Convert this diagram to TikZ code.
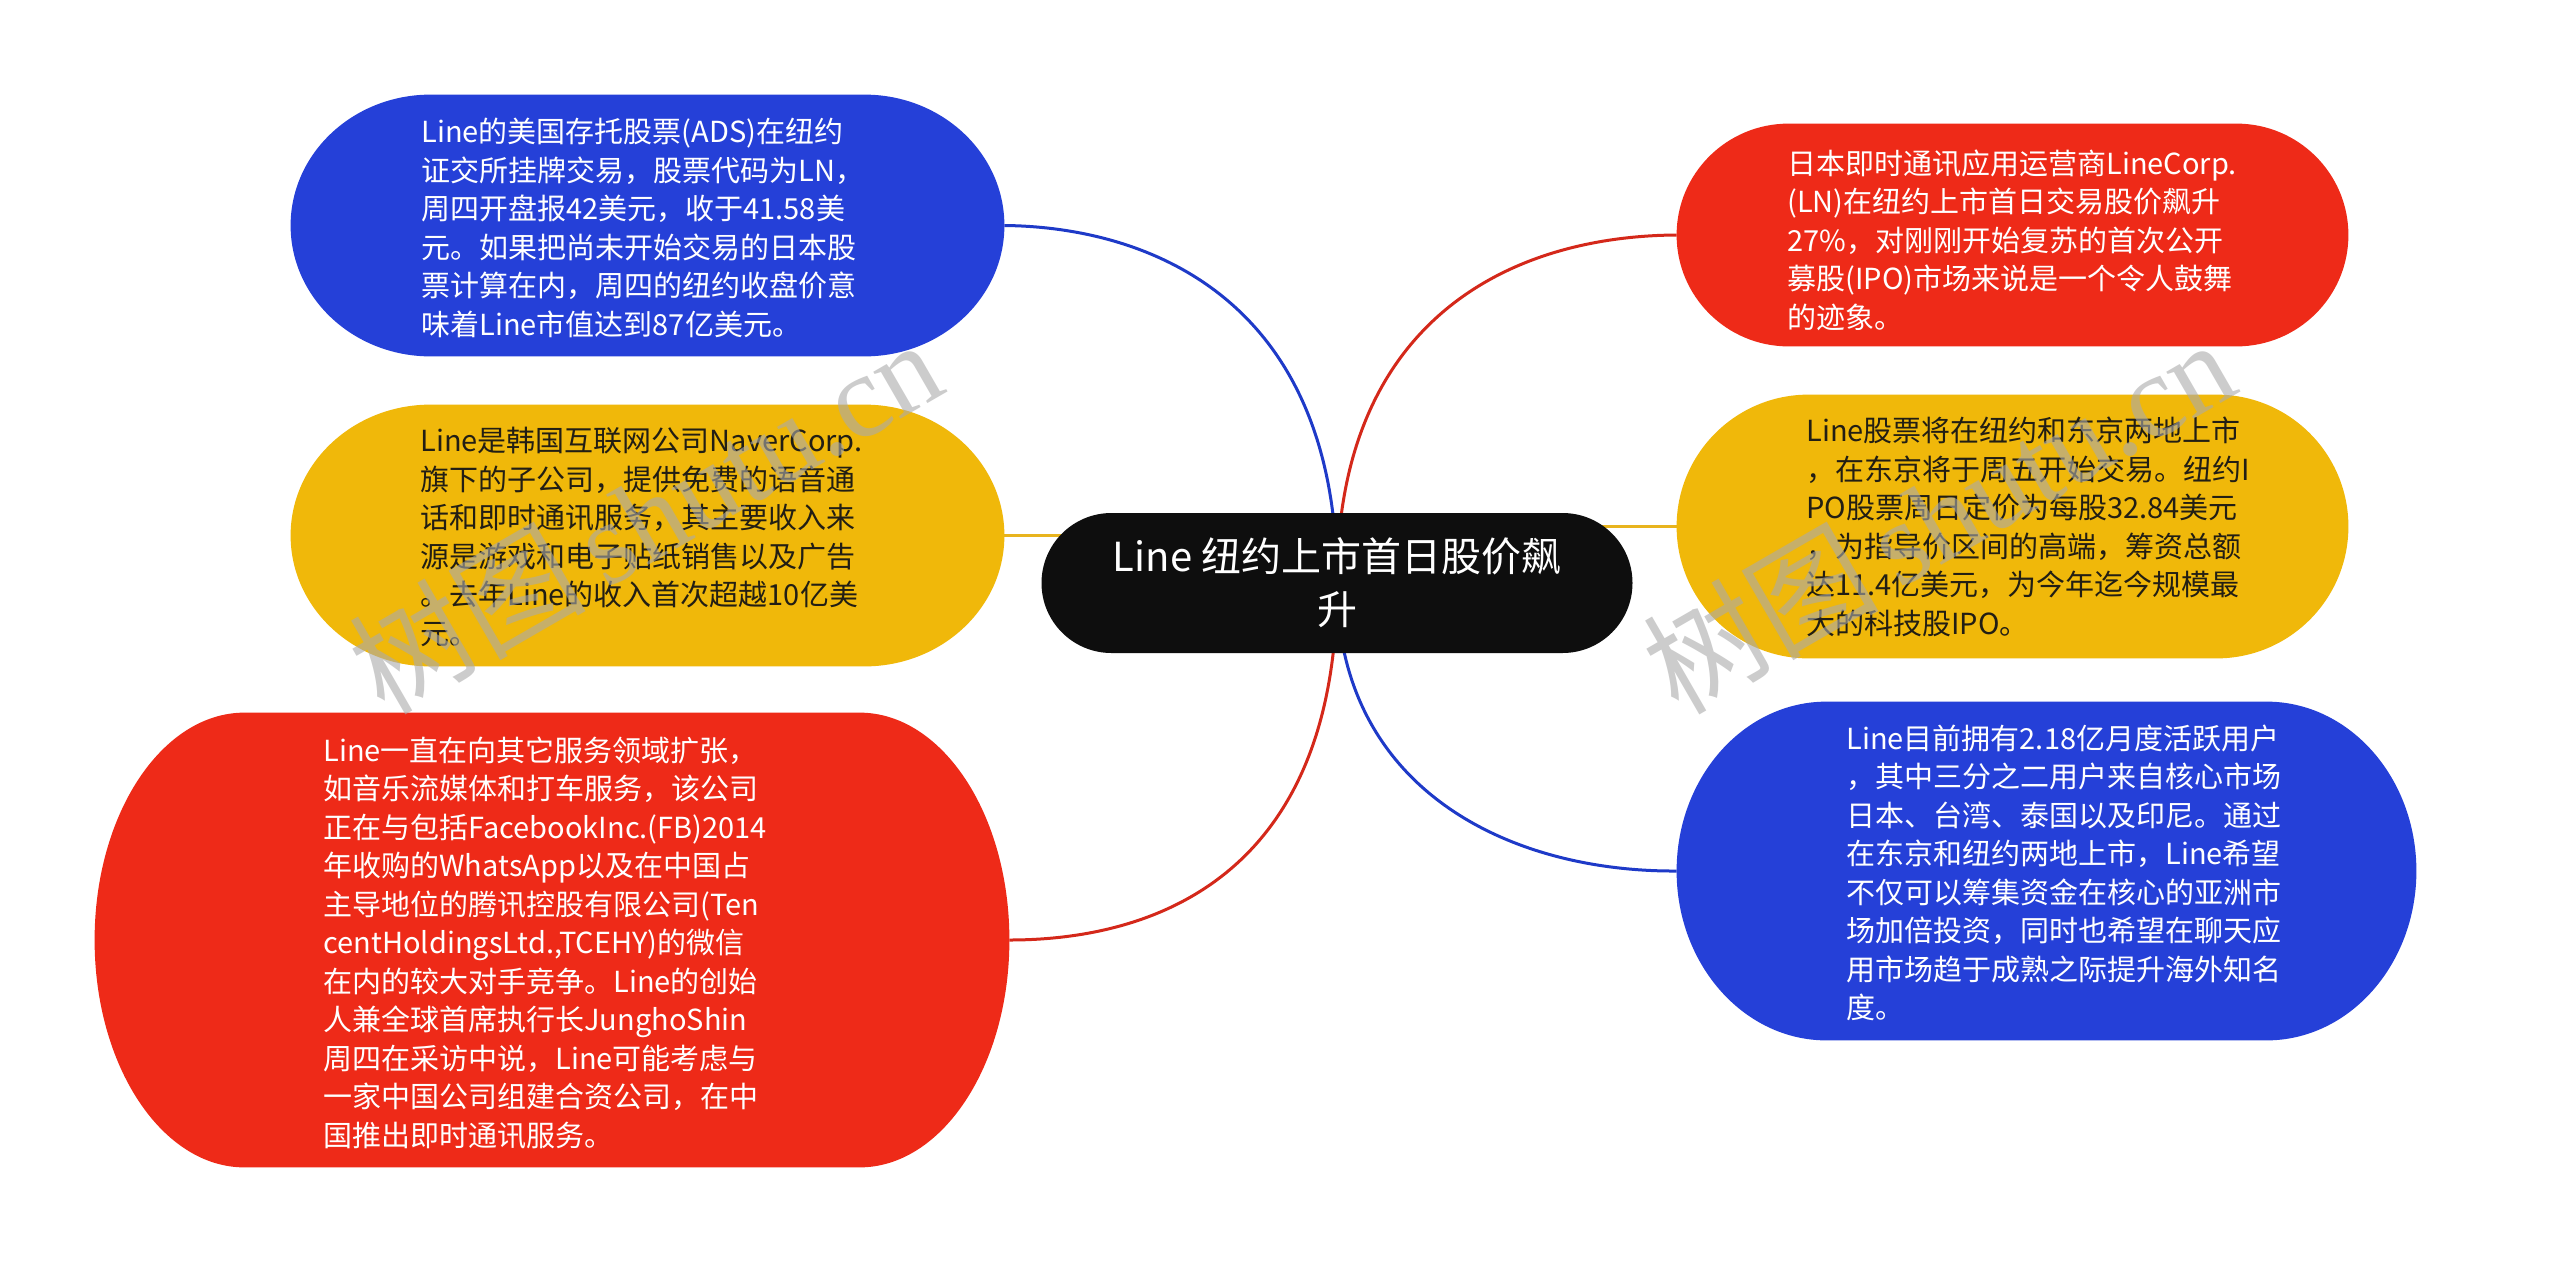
\documentclass[tikz,border=0pt]{standalone}
\usepackage{fontspec}
\setmainfont{Noto Sans CJK SC}
\newfontfamily\wmlatin{Liberation Serif}
\usetikzlibrary{shapes.misc,calc}
\pgfdeclarelayer{bg}
\pgfdeclarelayer{mid}
\pgfdeclarelayer{top}
\pgfsetlayers{bg,mid,main,top}
\definecolor{cblue}{RGB}{37,64,216}
\definecolor{cred}{RGB}{238,42,24}
\definecolor{cyellow}{RGB}{240,184,10}
\definecolor{cblack}{RGB}{14,14,14}
\definecolor{lblue}{RGB}{30,58,200}
\definecolor{lred}{RGB}{212,40,26}
\definecolor{lyellow}{RGB}{232,180,30}
\definecolor{darktext}{RGB}{34,30,20}
\definecolor{wmgray}{RGB}{170,170,170}
% elliptical-ended pill behind a named node: #1 node, #2 end radius, #3 colour
\newcommand\pillfill[3]{%
  \fill[#3] let \p1=(#1.north west), \p2=(#1.south east) in
    (\x1+#2,\y1) -- (\x2-#2,\y1)
    arc[start angle=90, end angle=-90, x radius=#2, y radius={(\y1-\y2)/2}]
    -- (\x1+#2,\y2)
    arc[start angle=270, end angle=90, x radius=#2, y radius={(\y1-\y2)/2}] -- cycle;}
\begin{document}
\begin{tikzpicture}[x=0.5pt,y=-0.5pt,
  pill/.style={shape=rounded rectangle, inner sep=0pt, draw=none},
  boxarea/.style={shape=rectangle, inner sep=0pt, draw=none},
  txt/.style={anchor=west, align=left, inner sep=0pt,
    font=\fontsize{14.5pt}{19.25pt}\selectfont},
  conn/.style={line width=1.5pt},
  wm/.style={rotate=30, text=wmgray, text opacity=0.6, inner sep=0pt,
    font=\fontsize{59pt}{62pt}\selectfont}
]
\useasboundingbox (0,0) rectangle (2560,1264);

% central topic
\node[pill, fill=cblack, text=white, minimum width=295.5pt, minimum height=70pt,
  align=center, font=\fontsize{20pt}{26.5pt}\selectfont] (c) at (1337,583)
  {Line 纽约上市首日股价飙\\升};

% branch box areas
\node[boxarea, minimum width=356.5pt, minimum height=130.5pt] (b1) at (647.5,225.5) {};
\node[boxarea, minimum width=356.5pt, minimum height=130.5pt] (b2) at (647.5,535.5) {};
\node[boxarea, minimum width=457pt, minimum height=227pt] (b3) at (552,940) {};
\node[boxarea, minimum width=335.5pt, minimum height=111pt] (b4) at (2012.5,235) {};
\node[boxarea, minimum width=335.5pt, minimum height=131.5pt] (b5) at (2012.5,526.5) {};
\node[boxarea, minimum width=369.5pt, minimum height=169pt] (b6) at (2046.5,871) {};

% texts
\node[txt, text=white] (t1) at (421,228) {Line的美国存托股票(ADS)在纽约\\证交所挂牌交易，股票代码为LN，\\周四开盘报42美元，收于41.58美\\元。如果把尚未开始交易的日本股\\票计算在内，周四的纽约收盘价意\\味着Line市值达到87亿美元。};
\node[txt, text=darktext] (t2) at (420,537) {Line是韩国互联网公司NaverCorp.\\旗下的子公司，提供免费的语音通\\话和即时通讯服务，其主要收入来\\源是游戏和电子贴纸销售以及广告\\。去年Line的收入首次超越10亿美\\元。};
\node[txt, text=white] (t3) at (323,943) {Line一直在向其它服务领域扩张，\\如音乐流媒体和打车服务，该公司\\正在与包括FacebookInc.(FB)2014\\年收购的WhatsApp以及在中国占\\主导地位的腾讯控股有限公司(Ten\\centHoldingsLtd.,TCEHY)的微信\\在内的较大对手竞争。Line的创始\\人兼全球首席执行长JunghoShin\\周四在采访中说，Line可能考虑与\\一家中国公司组建合资公司，在中\\国推出即时通讯服务。};
\node[txt, text=white] (t4) at (1787,240) {日本即时通讯应用运营商LineCorp.\\(LN)在纽约上市首日交易股价飙升\\27\%，对刚刚开始复苏的首次公开\\募股(IPO)市场来说是一个令人鼓舞\\的迹象。};
\node[txt, text=darktext] (t5) at (1806,527) {Line股票将在纽约和东京两地上市\\，在东京将于周五开始交易。纽约I\\PO股票周日定价为每股32.84美元\\，为指导价区间的高端，筹资总额\\达11.4亿美元，为今年迄今规模最\\大的科技股IPO。};
\node[txt, text=white] (t6) at (1846,873) {Line目前拥有2.18亿月度活跃用户\\，其中三分之二用户来自核心市场\\日本、台湾、泰国以及印尼。通过\\在东京和纽约两地上市，Line希望\\不仅可以筹集资金在核心的亚洲市\\场加倍投资，同时也希望在聊天应\\用市场趋于成熟之际提升海外知名\\度。};

% box fills
\begin{pgfonlayer}{mid}
\pillfill{b1}{70pt}{cblue}
\pillfill{b2}{70pt}{cyellow}
\pillfill{b3}{75pt}{cred}
\pillfill{b4}{56pt}{cred}
\pillfill{b5}{66pt}{cyellow}
\pillfill{b6}{75pt}{cblue}
\end{pgfonlayer}

% background and connectors
\begin{pgfonlayer}{bg}
\fill[white] (0,0) rectangle (2560,1264);
\draw[conn, lblue] (c.center) .. controls (1337,300) and (1150,227) .. (b1.east);
\draw[conn, lred] (c.center) .. controls (1337,320) and (1510,236) .. (b4.west);
\draw[conn, lyellow] (b2.east) -- (b2.east -| c.center);
\draw[conn, lyellow] (b5.west) -- (b5.west -| c.center);
\draw[conn, lred] (c.center) .. controls (1337,880) and (1150,940) .. (b3.east);
\draw[conn, lblue] (c.center) .. controls (1337,790) and (1510,872) .. (b6.west);
\end{pgfonlayer}

% watermarks
\begin{pgfonlayer}{top}
\node[wm] (w1) at (645,515) {树图\,{\wmlatin shutu.cn}};
\node[wm] (w2) at (1938,515) {树图\,{\wmlatin shutu.cn}};
\end{pgfonlayer}
\end{tikzpicture}
\end{document}
